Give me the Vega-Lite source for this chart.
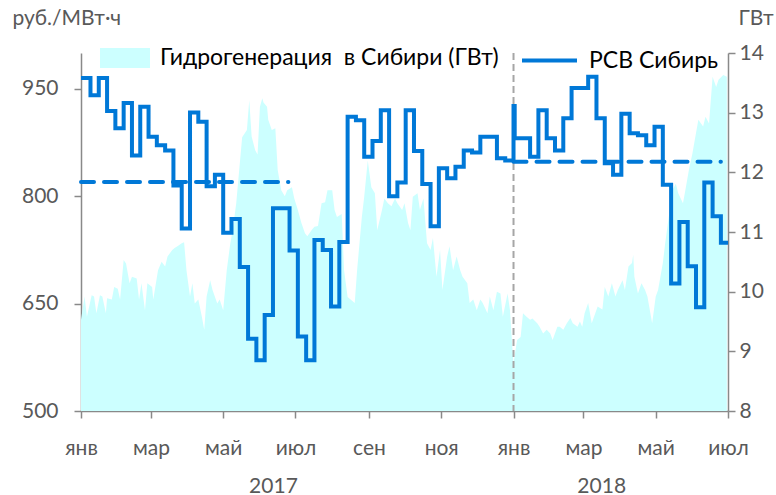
{
  "$schema": "https://vega.github.io/schema/vega-lite/v6.json",
  "width": 647,
  "height": 358,
  "autosize": {"type": "none"},
  "padding": {"left": 81, "top": 53, "right": 48, "bottom": 84},
  "config": {
    "view": {"stroke": null},
    "font": "Lato",
    "axis": {"domainColor": "#898989", "domainWidth": 1.5, "tickColor": "#898989", "tickWidth": 1.5, "labelColor": "#595959", "labelFont": "Lato", "labelFontSize": 21, "titleFont": "Lato", "titleColor": "#595959", "titleFontWeight": "normal", "titleFontSize": 21, "grid": false},
    "legend": {"labelFont": "Lato", "labelFontSize": 23, "labelColor": "#000000", "padding": 0, "labelLimit": 600}
  },
  "datasets": {
    "hydro": [
      {"date": "2017-01-01", "gw": 9.53}, {"date": "2017-01-04", "gw": 9.92}, {"date": "2017-01-06", "gw": 9.58}, {"date": "2017-01-10", "gw": 9.94},
      {"date": "2017-01-12", "gw": 9.92}, {"date": "2017-01-14", "gw": 9.64}, {"date": "2017-01-17", "gw": 9.94}, {"date": "2017-01-19", "gw": 9.92},
      {"date": "2017-01-22", "gw": 9.64}, {"date": "2017-01-23", "gw": 9.89}, {"date": "2017-01-27", "gw": 9.87}, {"date": "2017-01-29", "gw": 10.08},
      {"date": "2017-02-01", "gw": 10.05}, {"date": "2017-02-03", "gw": 9.87}, {"date": "2017-02-06", "gw": 10.53}, {"date": "2017-02-08", "gw": 10.47},
      {"date": "2017-02-11", "gw": 10.14}, {"date": "2017-02-13", "gw": 10.25}, {"date": "2017-02-17", "gw": 10.22}, {"date": "2017-02-19", "gw": 9.87},
      {"date": "2017-02-21", "gw": 10.14}, {"date": "2017-02-24", "gw": 9.69}, {"date": "2017-02-26", "gw": 10.14}, {"date": "2017-03-02", "gw": 10.08},
      {"date": "2017-03-03", "gw": 9.87}, {"date": "2017-03-07", "gw": 10.36}, {"date": "2017-03-10", "gw": 10.5}, {"date": "2017-03-13", "gw": 10.42},
      {"date": "2017-03-15", "gw": 10.59}, {"date": "2017-03-19", "gw": 10.7}, {"date": "2017-03-21", "gw": 10.73}, {"date": "2017-03-24", "gw": 10.77},
      {"date": "2017-03-27", "gw": 10.81}, {"date": "2017-03-29", "gw": 10.83}, {"date": "2017-03-31", "gw": 10.36}, {"date": "2017-04-03", "gw": 9.92},
      {"date": "2017-04-05", "gw": 10.14}, {"date": "2017-04-07", "gw": 9.8}, {"date": "2017-04-10", "gw": 9.87}, {"date": "2017-04-13", "gw": 9.58},
      {"date": "2017-04-15", "gw": 9.36}, {"date": "2017-04-17", "gw": 9.92}, {"date": "2017-04-20", "gw": 10.19}, {"date": "2017-04-22", "gw": 10.03},
      {"date": "2017-04-26", "gw": 9.8}, {"date": "2017-04-28", "gw": 9.87}, {"date": "2017-05-01", "gw": 9.69}, {"date": "2017-05-04", "gw": 10.36},
      {"date": "2017-05-07", "gw": 10.81}, {"date": "2017-05-09", "gw": 11.03}, {"date": "2017-05-12", "gw": 11.48}, {"date": "2017-05-15", "gw": 12.15},
      {"date": "2017-05-17", "gw": 12.59}, {"date": "2017-05-21", "gw": 12.71}, {"date": "2017-05-23", "gw": 13.21}, {"date": "2017-05-25", "gw": 12.6},
      {"date": "2017-05-28", "gw": 12.37}, {"date": "2017-05-30", "gw": 12.3}, {"date": "2017-06-01", "gw": 13.1}, {"date": "2017-06-03", "gw": 13.24},
      {"date": "2017-06-04", "gw": 13.17}, {"date": "2017-06-07", "gw": 13.1}, {"date": "2017-06-08", "gw": 12.88}, {"date": "2017-06-11", "gw": 12.71},
      {"date": "2017-06-14", "gw": 12.74}, {"date": "2017-06-16", "gw": 12.04}, {"date": "2017-06-19", "gw": 11.7}, {"date": "2017-06-22", "gw": 11.6},
      {"date": "2017-06-24", "gw": 11.7}, {"date": "2017-06-28", "gw": 11.75}, {"date": "2017-06-30", "gw": 11.56}, {"date": "2017-07-03", "gw": 11.37},
      {"date": "2017-07-06", "gw": 11.15}, {"date": "2017-07-09", "gw": 10.98}, {"date": "2017-07-11", "gw": 10.93}, {"date": "2017-07-15", "gw": 11.04},
      {"date": "2017-07-17", "gw": 11.09}, {"date": "2017-07-20", "gw": 11.1}, {"date": "2017-07-23", "gw": 11.48}, {"date": "2017-07-26", "gw": 11.5},
      {"date": "2017-07-28", "gw": 11.7}, {"date": "2017-08-01", "gw": 11.7}, {"date": "2017-08-03", "gw": 11.37}, {"date": "2017-08-05", "gw": 11.25},
      {"date": "2017-08-09", "gw": 11.3}, {"date": "2017-08-11", "gw": 10.36}, {"date": "2017-08-14", "gw": 9.91}, {"date": "2017-08-17", "gw": 9.86},
      {"date": "2017-08-20", "gw": 9.81}, {"date": "2017-08-22", "gw": 10.36}, {"date": "2017-08-26", "gw": 11.25}, {"date": "2017-08-28", "gw": 11.59},
      {"date": "2017-08-31", "gw": 12.2}, {"date": "2017-09-03", "gw": 11.75}, {"date": "2017-09-06", "gw": 11.65}, {"date": "2017-09-08", "gw": 11.03},
      {"date": "2017-09-12", "gw": 11.37}, {"date": "2017-09-14", "gw": 11.56}, {"date": "2017-09-17", "gw": 11.48}, {"date": "2017-09-20", "gw": 11.43},
      {"date": "2017-09-23", "gw": 11.56}, {"date": "2017-09-25", "gw": 11.48}, {"date": "2017-09-29", "gw": 11.37}, {"date": "2017-10-01", "gw": 11.48},
      {"date": "2017-10-04", "gw": 11.15}, {"date": "2017-10-06", "gw": 11.03}, {"date": "2017-10-08", "gw": 11.59}, {"date": "2017-10-12", "gw": 11.65},
      {"date": "2017-10-14", "gw": 11.37}, {"date": "2017-10-17", "gw": 11.56}, {"date": "2017-10-20", "gw": 10.81}, {"date": "2017-10-23", "gw": 10.7},
      {"date": "2017-10-25", "gw": 10.9}, {"date": "2017-10-28", "gw": 10.25}, {"date": "2017-10-31", "gw": 10.7}, {"date": "2017-11-02", "gw": 10.03},
      {"date": "2017-11-06", "gw": 10.59}, {"date": "2017-11-08", "gw": 10.76}, {"date": "2017-11-11", "gw": 10.36}, {"date": "2017-11-14", "gw": 10.59},
      {"date": "2017-11-17", "gw": 10.36}, {"date": "2017-11-19", "gw": 10.25}, {"date": "2017-11-23", "gw": 10.14}, {"date": "2017-11-25", "gw": 9.81},
      {"date": "2017-11-28", "gw": 9.87}, {"date": "2017-12-01", "gw": 9.69}, {"date": "2017-12-04", "gw": 9.87}, {"date": "2017-12-06", "gw": 9.81},
      {"date": "2017-12-10", "gw": 9.64}, {"date": "2017-12-12", "gw": 9.92}, {"date": "2017-12-15", "gw": 9.69}, {"date": "2017-12-18", "gw": 10.0},
      {"date": "2017-12-21", "gw": 9.97}, {"date": "2017-12-23", "gw": 9.58}, {"date": "2017-12-27", "gw": 9.97}, {"date": "2017-12-29", "gw": 9.69},
      {"date": "2017-12-31", "gw": 9.07}, {"date": "2018-01-01", "gw": 8.8}, {"date": "2018-01-04", "gw": 9.19}, {"date": "2018-01-07", "gw": 9.24},
      {"date": "2018-01-09", "gw": 9.64}, {"date": "2018-01-12", "gw": 9.58}, {"date": "2018-01-15", "gw": 9.53}, {"date": "2018-01-17", "gw": 9.55},
      {"date": "2018-01-21", "gw": 9.47}, {"date": "2018-01-23", "gw": 9.41}, {"date": "2018-01-26", "gw": 9.3}, {"date": "2018-01-29", "gw": 9.36},
      {"date": "2018-02-01", "gw": 9.3}, {"date": "2018-02-03", "gw": 9.19}, {"date": "2018-02-07", "gw": 9.41}, {"date": "2018-02-09", "gw": 9.41},
      {"date": "2018-02-12", "gw": 9.36}, {"date": "2018-02-15", "gw": 9.47}, {"date": "2018-02-18", "gw": 9.56}, {"date": "2018-02-20", "gw": 9.47},
      {"date": "2018-02-24", "gw": 9.41}, {"date": "2018-02-26", "gw": 9.5}, {"date": "2018-02-28", "gw": 9.41}, {"date": "2018-03-02", "gw": 9.64},
      {"date": "2018-03-05", "gw": 9.81}, {"date": "2018-03-08", "gw": 9.47}, {"date": "2018-03-11", "gw": 9.64}, {"date": "2018-03-13", "gw": 9.75},
      {"date": "2018-03-17", "gw": 9.7}, {"date": "2018-03-19", "gw": 10.08}, {"date": "2018-03-22", "gw": 9.92}, {"date": "2018-03-25", "gw": 10.14},
      {"date": "2018-03-28", "gw": 9.92}, {"date": "2018-03-30", "gw": 10.03}, {"date": "2018-04-03", "gw": 10.19}, {"date": "2018-04-05", "gw": 10.03},
      {"date": "2018-04-08", "gw": 10.42}, {"date": "2018-04-11", "gw": 10.48}, {"date": "2018-04-12", "gw": 10.62}, {"date": "2018-04-13", "gw": 10.25},
      {"date": "2018-04-16", "gw": 9.97}, {"date": "2018-04-19", "gw": 10.14}, {"date": "2018-04-22", "gw": 10.03}, {"date": "2018-04-24", "gw": 9.92},
      {"date": "2018-04-28", "gw": 9.47}, {"date": "2018-05-01", "gw": 9.92}, {"date": "2018-05-03", "gw": 10.03}, {"date": "2018-05-07", "gw": 10.48},
      {"date": "2018-05-09", "gw": 10.81}, {"date": "2018-05-12", "gw": 11.25}, {"date": "2018-05-15", "gw": 11.7}, {"date": "2018-05-18", "gw": 11.81},
      {"date": "2018-05-20", "gw": 11.65}, {"date": "2018-05-24", "gw": 11.48}, {"date": "2018-05-26", "gw": 11.7}, {"date": "2018-05-29", "gw": 12.04},
      {"date": "2018-06-01", "gw": 12.32}, {"date": "2018-06-04", "gw": 12.66}, {"date": "2018-06-06", "gw": 12.88}, {"date": "2018-06-10", "gw": 12.77},
      {"date": "2018-06-12", "gw": 12.93}, {"date": "2018-06-15", "gw": 12.82}, {"date": "2018-06-18", "gw": 13.6}, {"date": "2018-06-21", "gw": 13.43},
      {"date": "2018-06-23", "gw": 13.55}, {"date": "2018-06-27", "gw": 13.63}, {"date": "2018-06-30", "gw": 13.6}
    ],
    "price": [
      {"date": "2017-01-01", "price": 965}, {"date": "2017-01-09", "price": 941}, {"date": "2017-01-16", "price": 965}, {"date": "2017-01-23", "price": 919},
      {"date": "2017-01-30", "price": 895}, {"date": "2017-02-06", "price": 930}, {"date": "2017-02-13", "price": 857}, {"date": "2017-02-20", "price": 925},
      {"date": "2017-02-27", "price": 883}, {"date": "2017-03-06", "price": 871}, {"date": "2017-03-13", "price": 864}, {"date": "2017-03-20", "price": 815},
      {"date": "2017-03-27", "price": 755}, {"date": "2017-04-03", "price": 917}, {"date": "2017-04-10", "price": 904}, {"date": "2017-04-17", "price": 814},
      {"date": "2017-04-24", "price": 830}, {"date": "2017-05-01", "price": 749}, {"date": "2017-05-08", "price": 768}, {"date": "2017-05-15", "price": 701},
      {"date": "2017-05-22", "price": 601}, {"date": "2017-05-29", "price": 571}, {"date": "2017-06-05", "price": 634}, {"date": "2017-06-12", "price": 783},
      {"date": "2017-06-26", "price": 724}, {"date": "2017-07-03", "price": 604}, {"date": "2017-07-10", "price": 571}, {"date": "2017-07-17", "price": 739},
      {"date": "2017-07-24", "price": 725}, {"date": "2017-07-31", "price": 646}, {"date": "2017-08-07", "price": 736}, {"date": "2017-08-14", "price": 911},
      {"date": "2017-08-21", "price": 906}, {"date": "2017-08-28", "price": 855}, {"date": "2017-09-04", "price": 877}, {"date": "2017-09-11", "price": 920},
      {"date": "2017-09-18", "price": 800}, {"date": "2017-09-25", "price": 819}, {"date": "2017-10-02", "price": 920}, {"date": "2017-10-09", "price": 863},
      {"date": "2017-10-16", "price": 817}, {"date": "2017-10-23", "price": 758}, {"date": "2017-10-30", "price": 839}, {"date": "2017-11-06", "price": 825},
      {"date": "2017-11-13", "price": 841}, {"date": "2017-11-20", "price": 864}, {"date": "2017-11-27", "price": 861}, {"date": "2017-12-04", "price": 883},
      {"date": "2017-12-18", "price": 853}, {"date": "2017-12-25", "price": 850}, {"date": "2018-01-01", "price": 926}, {"date": "2018-01-02", "price": 881},
      {"date": "2018-01-15", "price": 855}, {"date": "2018-01-22", "price": 920}, {"date": "2018-01-29", "price": 881}, {"date": "2018-02-05", "price": 864},
      {"date": "2018-02-12", "price": 909}, {"date": "2018-02-19", "price": 951}, {"date": "2018-03-05", "price": 967}, {"date": "2018-03-12", "price": 909},
      {"date": "2018-03-19", "price": 846}, {"date": "2018-03-26", "price": 830}, {"date": "2018-04-02", "price": 915}, {"date": "2018-04-09", "price": 888},
      {"date": "2018-04-16", "price": 885}, {"date": "2018-04-23", "price": 871}, {"date": "2018-04-30", "price": 897}, {"date": "2018-05-07", "price": 816},
      {"date": "2018-05-14", "price": 678}, {"date": "2018-05-21", "price": 764}, {"date": "2018-05-28", "price": 702}, {"date": "2018-06-04", "price": 645},
      {"date": "2018-06-11", "price": 819}, {"date": "2018-06-18", "price": 772}, {"date": "2018-06-25", "price": 735}, {"date": "2018-07-01", "price": 735}
    ],
    "avg": [
      {"date": "2017-01-01", "end": "2017-06-25", "price": 820},
      {"date": "2018-01-01", "end": "2018-06-25", "price": 848}
    ],
    "yearmark": [{"date": "2018-01-01"}]
  },
  "layer": [
    {
      "layer": [
        {
          "data": {"name": "hydro"},
          "mark": {"type": "area", "interpolate": "linear"},
          "encoding": {
            "x": {"field": "date", "type": "temporal",
              "scale": {"type": "utc", "domain": [{"year": 2017, "month": 1, "date": 1, "utc": true}, {"year": 2018, "month": 7, "date": 1, "utc": true}]},
              "axis": {"orient": "bottom", "title": null,
                "values": [{"year": 2017, "month": 1, "date": 1, "utc": true}, {"year": 2017, "month": 3, "date": 1, "utc": true}, {"year": 2017, "month": 5, "date": 1, "utc": true}, {"year": 2017, "month": 7, "date": 1, "utc": true}, {"year": 2017, "month": 9, "date": 1, "utc": true}, {"year": 2017, "month": 11, "date": 1, "utc": true}, {"year": 2018, "month": 1, "date": 1, "utc": true}, {"year": 2018, "month": 3, "date": 1, "utc": true}, {"year": 2018, "month": 5, "date": 1, "utc": true}, {"year": 2018, "month": 7, "date": 1, "utc": true}],
                "labelExpr": "['янв','фев','мар','апр','май','июн','июл','авг','сен','окт','ноя','дек'][utcmonth(datum.value)]",
                "tickSize": 7, "labelPadding": 19, "labelOverlap": false, "labelFlush": false, "labelBound": false}},
            "y": {"field": "gw", "type": "quantitative",
              "scale": {"domain": [8, 14], "nice": false, "zero": false},
              "axis": {"orient": "right", "values": [8, 9, 10, 11, 12, 13, 14], "title": "ГВт", "titleAngle": 0, "titleAlign": "left", "titleBaseline": "middle", "titleX": 10, "titleY": -35, "tickSize": 7, "labelPadding": 4}},
            "y2": {"datum": 8},
            "fill": {"datum": "Гидрогенерация\u00a0 в Сибири (ГВт)", "type": "nominal",
              "scale": {"range": ["#CCFFFF"]},
              "legend": {"orient": "none", "legendX": 19, "legendY": -20, "title": null, "symbolType": "M-1,-0.4H1V0.4H-1Z", "symbolSize": 2500, "symbolStrokeWidth": 0, "labelOffset": 10, "labelLimit": 600}}
          }
        },
        {
          "data": {"name": "yearmark"},
          "mark": {"type": "rule", "color": "#A6A6A6", "strokeWidth": 2, "strokeDash": [7, 4]},
          "encoding": {
            "x": {"field": "date", "type": "temporal",
              "axis": {"orient": "bottom", "title": null,
                "values": [{"year": 2017, "month": 1, "date": 1, "utc": true}, {"year": 2017, "month": 3, "date": 1, "utc": true}, {"year": 2017, "month": 5, "date": 1, "utc": true}, {"year": 2017, "month": 7, "date": 1, "utc": true}, {"year": 2017, "month": 9, "date": 1, "utc": true}, {"year": 2017, "month": 11, "date": 1, "utc": true}, {"year": 2018, "month": 1, "date": 1, "utc": true}, {"year": 2018, "month": 3, "date": 1, "utc": true}, {"year": 2018, "month": 5, "date": 1, "utc": true}, {"year": 2018, "month": 7, "date": 1, "utc": true}],
                "labelExpr": "['янв','фев','мар','апр','май','июн','июл','авг','сен','окт','ноя','дек'][utcmonth(datum.value)]",
                "tickSize": 7, "labelPadding": 19, "labelOverlap": false, "labelFlush": false, "labelBound": false}}
          }
        }
      ]
    },
    {
      "layer": [
        {
          "data": {"name": "price"},
          "mark": {"type": "line", "interpolate": "step-after", "strokeWidth": 4},
          "encoding": {
            "x": {"field": "date", "type": "temporal",
              "axis": {"orient": "bottom", "title": null,
                "values": [{"year": 2017, "month": 6, "date": 12, "utc": true}, {"year": 2018, "month": 3, "date": 16, "utc": true}],
                "labelExpr": "'' + utcyear(datum.value)", "ticks": false, "tickSize": 0, "domain": false, "labelPadding": 64, "labelOverlap": false, "labelFlush": false, "labelBound": false}},
            "y": {"field": "price", "type": "quantitative",
              "scale": {"domain": [500, 1000], "nice": false, "zero": false},
              "axis": {"orient": "left", "values": [500, 650, 800, 950], "title": "руб./МВт·ч", "titleAngle": 0, "titleAlign": "left", "titleBaseline": "middle", "titleX": -69, "titleY": -35, "tickSize": 7, "labelPadding": 16}},
            "stroke": {"datum": "РСВ Сибирь", "type": "nominal",
              "scale": {"range": ["#0078D7"]},
              "legend": {"orient": "none", "legendX": 439, "legendY": -22, "title": null, "symbolType": "stroke", "symbolSize": 3025, "symbolStrokeWidth": 4, "labelOffset": 10, "labelLimit": 600}}
          }
        },
        {
          "data": {"name": "avg"},
          "mark": {"type": "rule", "color": "#0078D7", "strokeWidth": 4, "strokeDash": [13, 10], "strokeCap": "round"},
          "encoding": {
            "x": {"field": "date", "type": "temporal",
              "axis": {"orient": "bottom", "title": null,
                "values": [{"year": 2017, "month": 6, "date": 12, "utc": true}, {"year": 2018, "month": 3, "date": 16, "utc": true}],
                "labelExpr": "'' + utcyear(datum.value)", "ticks": false, "tickSize": 0, "domain": false, "labelPadding": 64, "labelOverlap": false, "labelFlush": false, "labelBound": false}},
            "x2": {"field": "end"},
            "y": {"field": "price", "type": "quantitative",
              "axis": {"orient": "left", "values": [500, 650, 800, 950], "title": "руб./МВт·ч", "titleAngle": 0, "titleAlign": "left", "titleBaseline": "middle", "titleX": -69, "titleY": -35, "tickSize": 7, "labelPadding": 16}}
          }
        }
      ]
    }
  ],
  "resolve": {"scale": {"y": "independent"}, "axis": {"x": "independent"}}
}
